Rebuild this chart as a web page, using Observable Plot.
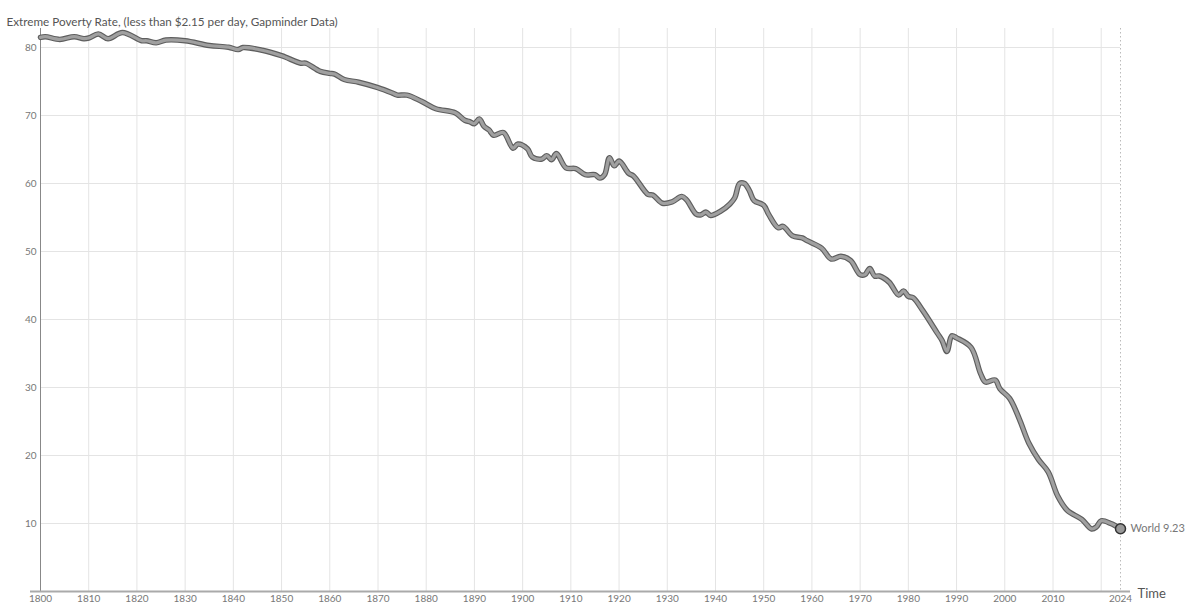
<!DOCTYPE html>
<html>
<head>
<meta charset="utf-8">
<script src="https://cdn.jsdelivr.net/npm/d3@7"></script>
<script src="https://cdn.jsdelivr.net/npm/@observablehq/plot@0.6"></script>
<style>
  body { margin: 0; background: #fff; }
  #chart { width: 1200px; height: 607px; }
</style>
</head>
<body>
<div id="chart"></div>
<script>
// World extreme poverty rate (%)
const years = [
  1800, 1801, 1804, 1807, 1809, 1810, 1812, 1814, 1817, 1821, 1822, 1824, 1826, 1830,
  1835, 1839, 1841, 1842, 1846, 1850, 1854, 1855, 1858, 1860, 1861, 1863, 1866, 1870,
  1873, 1874, 1876, 1879, 1882, 1886, 1888, 1889, 1890, 1891, 1892, 1893, 1894, 1896,
  1898, 1899, 1901, 1902, 1904, 1905, 1906, 1907, 1909, 1911, 1913, 1915, 1916, 1917,
  1918, 1919, 1920, 1922, 1923, 1926, 1927, 1929, 1931, 1933, 1934, 1936, 1937, 1938,
  1939, 1941, 1943, 1944, 1945, 1946, 1947, 1948, 1950, 1951, 1953, 1954, 1956, 1958,
  1959, 1962, 1964, 1966, 1968, 1970, 1971, 1972, 1973, 1974, 1976, 1978, 1979, 1980,
  1981, 1983, 1986, 1987, 1988, 1989, 1990, 1993, 1995, 1996, 1998, 1999, 2001, 2003,
  2005, 2007, 2009, 2011, 2013, 2016, 2018, 2019, 2020, 2022, 2024
];
const rates = [
  81.5, 81.6, 81.2, 81.6, 81.3, 81.4, 82.0, 81.3, 82.2, 81.0, 81.0, 80.7, 81.1, 81.0,
  80.3, 80.05, 79.7, 80.0, 79.6, 78.8, 77.7, 77.7, 76.5, 76.2, 76.1, 75.3, 74.9, 74.1,
  73.3, 73.0, 73.0, 72.1, 71.0, 70.4, 69.3, 69.1, 68.8, 69.5, 68.4, 67.9, 67.1, 67.5,
  65.2, 65.8, 65.1, 63.9, 63.6, 64.1, 63.5, 64.4, 62.3, 62.2, 61.3, 61.3, 60.8, 61.3,
  63.8, 62.6, 63.3, 61.5, 61.1, 58.4, 58.3, 57.1, 57.3, 58.1, 57.6, 55.5, 55.4, 55.8,
  55.3, 55.9, 57.0, 57.9, 60.0, 60.0, 59.0, 57.5, 56.8, 55.5, 53.5, 53.7, 52.3, 52.0,
  51.6, 50.5, 48.9, 49.3, 48.7, 46.6, 46.6, 47.5, 46.4, 46.4, 45.5, 43.6, 44.2, 43.4,
  43.2, 41.3, 38.0, 36.9, 35.3, 37.6, 37.3, 35.9, 32.0, 30.8, 31.1, 29.8, 28.4, 25.4,
  21.8, 19.4, 17.6, 14.0, 11.9, 10.6, 9.2, 9.5, 10.4, 10.0, 9.23
];
const xTicks = [1800, 1810, 1820, 1830, 1840, 1850, 1860, 1870, 1880, 1890, 1900,
  1910, 1920, 1930, 1940, 1950, 1960, 1970, 1980, 1990, 2000, 2010, 2024];
const xGrid = [1800, 1810, 1820, 1830, 1840, 1850, 1860, 1870, 1880, 1890, 1900,
  1910, 1920, 1930, 1940, 1950, 1960, 1970, 1980, 1990, 2000, 2010, 2020];
const yTicks = [10, 20, 30, 40, 50, 60, 70, 80];
const title = "Extreme Poverty Rate, (less than $2.15 per day, Gapminder Data)";
const entity = "World";

const data = years.map((t, i) => ({time: t, rate: rates[i]}));
const last = data[data.length - 1];

const chart = Plot.plot({
  width: 1200,
  height: 607,
  marginLeft: 40,
  marginRight: 80,
  marginTop: 28,
  marginBottom: 16,
  style: {
    "font-family": "Lato, sans-serif",
    "font-size": "10px",
    color: "#666",
    background: "#fff"
  },
  x: { domain: [1800, 2024] },
  y: { domain: [0, 82.8] },
  marks: [
    Plot.gridX(xGrid, { stroke: "#e4e4e4", strokeOpacity: 1 }),
    Plot.gridY(yTicks, { stroke: "#e4e4e4", strokeOpacity: 1 }),
    Plot.ruleX([2024], { stroke: "#bbb", strokeDasharray: "1.5,2.5" }),
    Plot.ruleX([1800], { stroke: "#888", strokeWidth: 1 }),
    Plot.ruleY([0], { stroke: "#aaa", strokeWidth: 2, insetLeft: -10, insetRight: -10 }),
    Plot.axisX({ ticks: xTicks, tickSize: 0, tickPadding: 3, tickFormat: d => String(d), label: null, fill: "#777" }),
    Plot.axisY({ ticks: yTicks, tickSize: 0, tickPadding: 4, label: null, fill: "#777" }),
    Plot.line(data, { x: "time", y: "rate", stroke: "#5e5e5e", strokeWidth: 5.5, curve: "catmull-rom", strokeLinejoin: "round", strokeLinecap: "round" }),
    Plot.line(data, { x: "time", y: "rate", stroke: "#a0a0a0", strokeWidth: 3.2, curve: "catmull-rom", strokeLinejoin: "round", strokeLinecap: "round" }),
    Plot.dot([last], { x: "time", y: "rate", r: 5, fill: "#999", stroke: "#333", strokeWidth: 1.5 }),
    Plot.text([last], { x: "time", y: "rate", text: d => `${entity} ${d.rate}`, dx: 10, textAnchor: "start", fontSize: 11, fill: "#777" }),
    Plot.text([title], { frameAnchor: "top-left", dx: -34, dy: -11, textAnchor: "start", fontSize: 11.7, fill: "#555" }),
    Plot.text(["Time"], { frameAnchor: "bottom-right", dx: 17, dy: 6, textAnchor: "start", fontSize: 13, fill: "#555" })
  ]
});

document.getElementById("chart").append(chart);
</script>
</body>
</html>
